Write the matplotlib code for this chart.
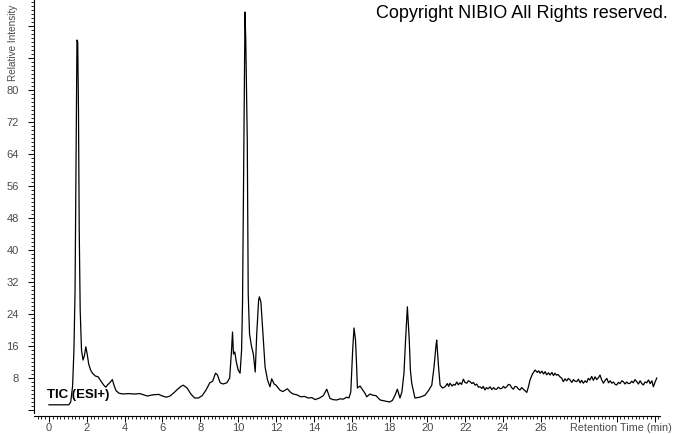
import matplotlib
matplotlib.use("Agg")
import matplotlib.pyplot as plt
from matplotlib.ticker import MultipleLocator, FuncFormatter

plt.rcParams['font.family'] = ['Liberation Sans', 'DejaVu Sans']

# TIC trace: retention time (min) and relative intensity
rt = [0.0, 1.05, 1.15, 1.25, 1.32, 1.38, 1.43, 1.48, 1.52, 1.56, 1.6, 1.65, 1.72, 1.8, 1.87,
      1.95, 2.02, 2.1, 2.2, 2.3, 2.45, 2.6, 2.75, 2.9, 3.0, 3.1, 3.25, 3.35, 3.45, 3.55,
      3.7, 3.9, 4.2, 4.5, 4.8, 5.0, 5.2, 5.5, 5.8, 6.0, 6.2, 6.4, 6.6, 6.8, 7.0, 7.1, 7.3,
      7.5, 7.7, 7.9, 8.1, 8.3, 8.5, 8.65, 8.8, 8.9, 9.05, 9.2, 9.4, 9.55, 9.65, 9.7, 9.75,
      9.82, 9.9, 10.0, 10.1, 10.18, 10.23, 10.28, 10.33, 10.36, 10.4, 10.44, 10.48, 10.53,
      10.6, 10.7, 10.8, 10.9, 10.98, 11.08, 11.12, 11.2, 11.27, 11.33, 11.42, 11.55, 11.68,
      11.77, 11.9, 12.0, 12.2, 12.35, 12.6, 12.75, 12.9, 13.1, 13.3, 13.5, 13.7, 13.9, 14.06,
      14.3, 14.5, 14.68, 14.85, 15.0, 15.2, 15.4, 15.55, 15.73, 15.85, 15.95, 16.05, 16.12,
      16.2, 16.25, 16.3, 16.44, 16.58, 16.7, 16.79, 16.97, 17.1, 17.28, 17.5, 17.7, 18.0,
      18.15, 18.29, 18.41, 18.55, 18.65, 18.76, 18.85, 18.94, 19.04, 19.1, 19.17, 19.34,
      19.6, 19.87, 20.05, 20.23, 20.35, 20.45, 20.49, 20.58, 20.67,
      20.8, 20.93, 21.05, 21.12, 21.19, 21.3, 21.38, 21.46, 21.55, 21.63, 21.72, 21.8, 21.9,
      21.98, 22.08, 22.16, 22.25, 22.35, 22.43, 22.52, 22.6, 22.7, 22.78, 22.88, 22.95, 23.04,
      23.12, 23.2, 23.31, 23.4, 23.5, 23.58, 23.66, 23.75, 23.85, 23.93, 24.02, 24.1, 24.19,
      24.28, 24.37, 24.45, 24.54, 24.63, 24.72, 24.8, 24.89, 24.98, 25.07, 25.16, 25.25,
      25.35, 25.42, 25.55, 25.69, 25.8, 25.88, 25.95, 26.05, 26.14, 26.22, 26.3, 26.4, 26.48,
      26.58, 26.66, 26.74, 26.82, 26.9, 27.0, 27.09, 27.18, 27.27, 27.36, 27.45, 27.54, 27.63,
      27.72, 27.8, 27.89, 27.98, 28.07, 28.15, 28.24, 28.33, 28.42, 28.5, 28.59, 28.68, 28.77,
      28.86, 28.95, 29.04, 29.12, 29.21, 29.3, 29.39, 29.48, 29.57, 29.66, 29.74, 29.83, 29.92,
      30.0, 30.09, 30.18, 30.27, 30.35, 30.44, 30.53, 30.62, 30.71, 30.8, 30.88, 30.97, 31.06,
      31.15, 31.24, 31.33, 31.41, 31.5, 31.59, 31.68, 31.77, 31.86, 31.94, 32.03, 32.12]

intensity = [1.3, 1.3, 2.0, 6, 15, 30, 60, 92.5, 92, 75, 45, 25, 15, 12.5, 13.5,
             15.8, 14, 11.5, 10, 9.2, 8.5, 8.3, 7.2, 6.2, 5.7, 6.3, 7.0, 7.6, 6.0, 4.8,
             4.2, 4.0, 4.1, 4.0, 4.1, 3.8, 3.5, 3.8, 3.9, 3.5, 3.2, 3.5, 4.3, 5.2, 6.0, 6.2, 5.5,
             4.0, 3.0, 3.0, 3.6, 5.0, 6.8, 7.2, 9.2, 8.8, 6.8, 6.5, 6.8, 8.0, 15, 19.5, 14,
             14.5, 12, 10, 9.2, 15, 27, 56, 85, 99.5, 92.5, 80, 67.5, 29,
             19, 16, 14, 9.5, 19, 27.5, 28.3, 27, 22, 17.5, 10.8, 7.5, 5.8,
             7.8, 6.5, 6.2, 5.0, 4.6, 5.3, 4.5, 4.0, 3.8, 3.3, 3.4, 3.0, 3.1, 2.6,
             3.0, 3.6, 5.2, 2.9, 2.6, 2.5, 2.8, 2.7, 3.2, 3.0, 4.5, 15, 20.5,
             17.5, 12, 5.5, 6.0, 5.0, 4.2, 3.3, 4.0, 3.7, 3.6, 2.5, 2.3, 2.0,
             2.4, 3.7, 5.2, 3.0, 4.5, 9.2, 18, 25.8, 17.5, 10, 6.7, 3.0,
             3.2, 3.7, 4.8, 6.2, 10.8, 16, 17.5, 11.2, 6.2,
             5.5, 5.8, 6.6, 5.9, 6.7, 6.0, 6.4, 6.2, 7.0, 6.3, 6.8, 6.4, 7.7,
             6.9, 6.7, 7.3, 7.1, 6.6, 6.9, 6.2, 6.5, 5.7, 5.8, 5.4, 5.9, 5.0,
             5.6, 5.3, 5.8, 5.1, 5.6, 5.2, 5.2, 5.7, 5.3, 5.4, 5.9, 5.5, 5.8,
             6.4, 6.25, 5.6, 5.2, 5.9, 5.8, 5.3, 5.0, 5.6, 5.2, 4.8, 4.4,
             6.0, 7.5, 9.0, 10.0, 9.4, 9.8, 9.2, 9.7, 9.0, 9.6, 8.8, 9.3, 8.75,
             9.4, 8.6, 9.2, 8.7, 8.9, 8.3, 8.0, 7.1, 7.8, 7.3, 7.9, 7.5, 6.9,
             7.6, 7.2, 7.1, 7.7, 6.8, 7.4, 6.7, 7.3, 6.9, 7.9, 7.5, 8.4, 7.4,
             8.3, 7.6, 8.1, 8.75, 7.5, 6.7, 7.4, 7.9, 6.8, 7.3, 6.7, 7.0, 6.4,
             6.25, 6.9, 6.6, 7.3, 7.1, 6.5, 7.0, 6.6, 6.7, 7.2, 6.8, 7.6, 7.1,
             6.5, 7.3, 6.6, 6.25, 7.0, 6.8, 7.5, 6.6, 7.3, 5.8, 7.0, 8.0]

ytick_vals = [8, 16, 24, 32, 40, 48, 56, 64, 72, 80]
xtick_vals = [0, 2, 4, 6, 8, 10, 12, 14, 16, 18, 20, 22, 24, 26]

W, H = 674, 434
fig = plt.figure(figsize=(W / 100, H / 100), dpi=100)
ax = fig.add_axes([34 / W, (H - 413) / H, (660 - 34) / W, 413 / H])

ax.plot(rt, intensity, color='black', lw=0.9)

ax.set_xlim(-0.79, 32.29)
ax.set_ylim(-0.75, 102.5)

for s in ['top', 'right']:
    ax.spines[s].set_visible(False)
ax.spines['bottom'].set_position(('outward', 2))
ax.spines['left'].set_linewidth(0.8)
ax.spines['bottom'].set_linewidth(0.8)

gray = '#4a4a4a'
ax.xaxis.set_major_locator(MultipleLocator(2))
ax.xaxis.set_minor_locator(MultipleLocator(0.2))
ax.yaxis.set_major_locator(MultipleLocator(8))
ax.yaxis.set_minor_locator(MultipleLocator(1))
ax.xaxis.set_major_formatter(FuncFormatter(lambda v, p: f"{int(round(v))}" if round(v) in xtick_vals else ""))
ax.yaxis.set_major_formatter(FuncFormatter(lambda v, p: f"{int(round(v))}" if round(v) in ytick_vals else ""))

ax.tick_params(axis='both', which='major', length=4, width=0.7, labelsize=8, labelcolor=gray, color='black')
ax.tick_params(axis='both', which='minor', length=2.2, width=0.6, color='black')
ax.tick_params(axis='x', which='major', pad=1)
ax.tick_params(axis='y', which='major', pad=7)

# y label kept fully inside the figure (the original runs off the top edge)
fig.text(13 / W, 1 - 81 / H, 'Relative Intensity', rotation=90, ha='center', va='bottom',
         fontsize=7.2, color=gray)
fig.text(672 / W, 1 - 428 / H, 'Retention Time (min)', ha='right', va='center',
         fontsize=7.8, color=gray)
fig.text(668 / W, 1 - 14 / H, 'Copyright NIBIO All Rights reserved.', ha='right', va='center',
         fontsize=13, color='black')
ax.text(-0.1, 3.8, 'TIC (ESI+)', ha='left', va='center', fontsize=9.5, fontweight='bold', color='black')

fig.savefig('out.png', dpi=100)
